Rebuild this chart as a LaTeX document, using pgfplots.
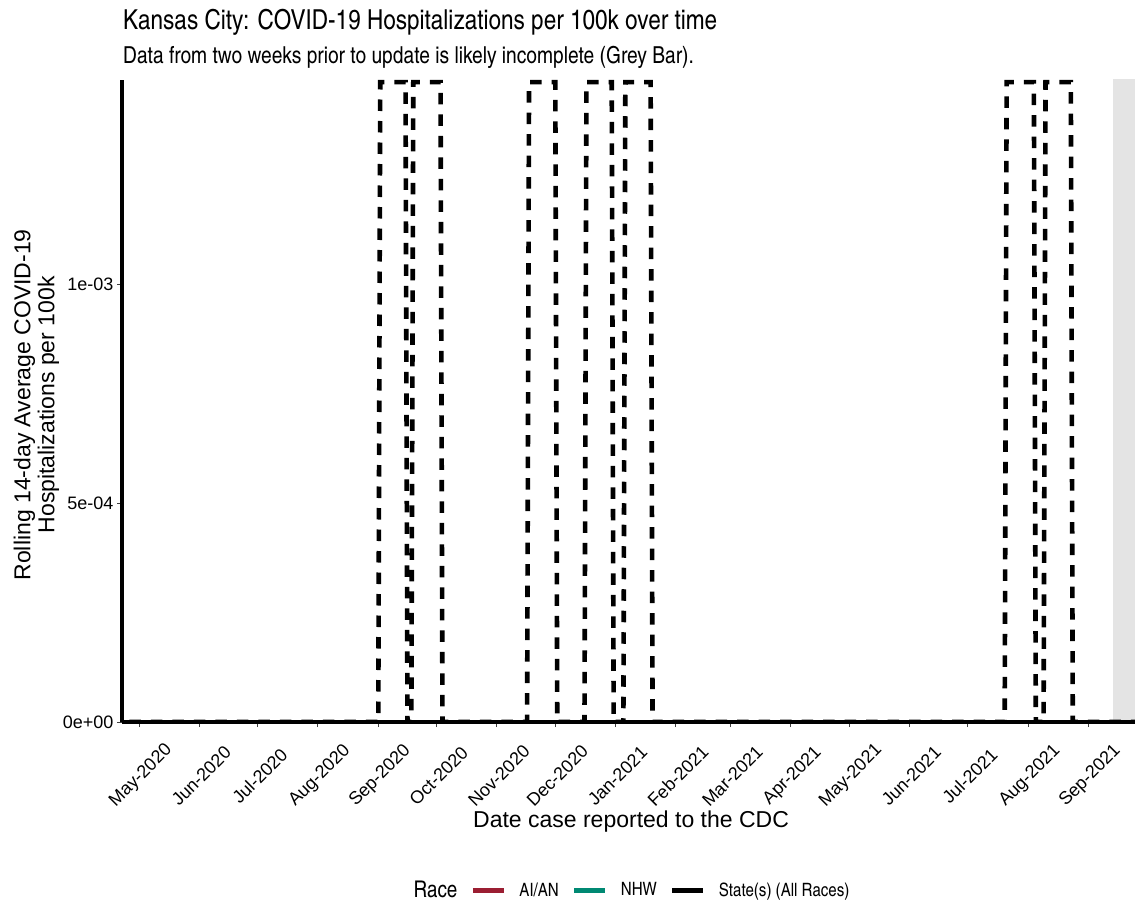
\documentclass[border=0pt]{standalone}
\usepackage{fontspec}
\setmainfont{Liberation Sans}
\newfontfamily\narrow{texgyreheroscn-regular.otf}
\usepackage{pgfplots}
\pgfplotsset{compat=1.18}
\definecolor{aian}{HTML}{9B1E32}
\definecolor{nhw}{HTML}{008973}
\definecolor{greybar}{HTML}{E4E4E4}

% x = days since 2020-05-01, y = rolling 14-day average per 100k
\pgfplotstableread{
day   val
-5    0
123   0
124   0.001461
137   0.001461
138   0
140   0
141   0.001461
155   0.001461
156   0
199.5 0
200.5 0.001461
214   0.001461
215   0
229   0
230   0.001461
243   0.001461
244   0
249   0
250   0.001461
263   0.001461
264   0
445   0
446   0.001461
460   0.001461
461   0
465   0
466   0.001461
479   0.001461
480   0
512   0
}\statedata

\begin{document}
\begin{tikzpicture}[x=1pt,y=1pt]
\useasboundingbox (0,0) rectangle (1135,905);
\begin{axis}[
  at={(122pt,183pt)}, anchor=south west,
  scale only axis, width=1013pt, height=642pt,
  xmin=-8.74, xmax=512, ymin=0, ymax=0.0014658,
  scaled y ticks=false,
  axis x line*=bottom, axis y line*=left,
  axis line style={line width=4pt, black},
  axis on top,
  tick align=outside, major tick length=5pt,
  tick style={line width=1pt, black!75},
  xtick={0,31,61,92,123,153,184,214,245,276,304,335,365,396,426,457,488},
  xticklabels={May-2020,Jun-2020,Jul-2020,Aug-2020,Sep-2020,Oct-2020,Nov-2020,Dec-2020,Jan-2021,Feb-2021,Mar-2021,Apr-2021,May-2021,Jun-2021,Jul-2021,Aug-2021,Sep-2021},
  ytick={0,0.0005,0.001},
  yticklabels={0e+00,5e-04,1e-03},
  x tick label style={font=\fontsize{18}{20}\selectfont, anchor=center, yshift=-49pt, xshift=2pt, rotate=45},
  y tick label style={font=\fontsize{18}{20}\selectfont},
  xlabel={Date case reported to the CDC},
  ylabel={Rolling 14-day Average COVID-19\\Hospitalizations per 100k},
  xlabel style={font=\fontsize{23}{26}\selectfont, at={(axis description cs:0.5025,-0.1558)}, anchor=center},
  ylabel style={font=\fontsize{23}{24}\selectfont, align=center, at={(axis description cs:-0.0844,0.494)}, anchor=center},
  legend columns=-1,
  legend cell align=left,
  legend image code/.code={\draw[#1] (0pt,0pt) -- (31pt,0pt);},
  legend style={at={(axis description cs:0.4965,-0.2617)}, anchor=center, draw=none, fill=none,
    font=\narrow\fontsize{18.4}{20}\selectfont, nodes={inner sep=0pt}, column sep=13pt},
]
\addplot[fill=greybar, draw=none, forget plot] coordinates {(500.8,0.0015) (520,0.0015)} \closedcycle;
\addplot[aian, line width=5pt, forget plot] coordinates {(-5,0) (512,0)};
\addplot[nhw, line width=5pt, forget plot] coordinates {(-5,0) (512,0)};
\addplot[black, line width=4.6pt, dash pattern=on 11.5pt off 10pt, forget plot] table[x=day, y=val] {\statedata};

\addlegendimage{empty legend}
\addlegendentry{\fontsize{23}{26}\selectfont Race}
\addlegendimage{aian, line width=5pt}
\addlegendentry{AI/AN}
\addlegendimage{nhw, line width=5pt}
\addlegendentry{NHW}
\addlegendimage{black, line width=5pt}
\addlegendentry{State(s) (All Races)}
\end{axis}
\node[anchor=base west, inner sep=0pt, font=\narrow\fontsize{27.5}{30}\selectfont] at (123,875) {Kansas City: COVID-19 Hospitalizations per 100k over time};
\node[anchor=base west, inner sep=0pt, font=\narrow\fontsize{23.4}{26}\selectfont] at (123,841.5) {Data from two weeks prior to update is likely incomplete (Grey Bar).};
\end{tikzpicture}
\end{document}
